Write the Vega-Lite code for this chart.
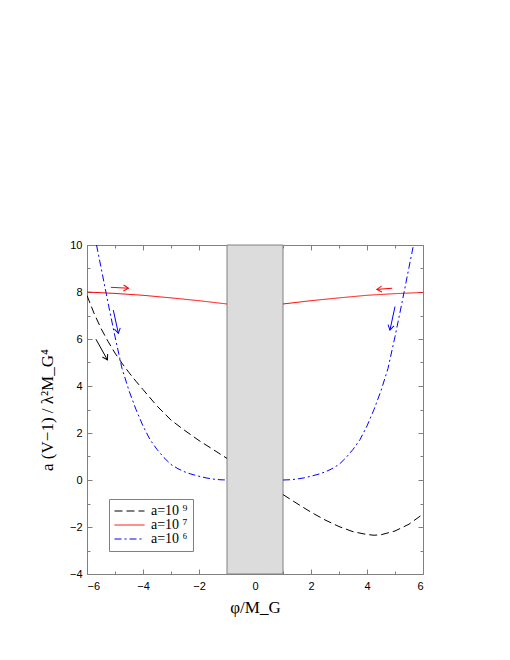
{
  "$schema": "https://vega.github.io/schema/vega-lite/v6.json",
  "width": 336,
  "height": 329,
  "autosize": "none",
  "padding": {"left": 87, "top": 245, "right": 87, "bottom": 86},
  "background": "white",
  "config": {
    "view": {"stroke": "#808080", "strokeWidth": 1},
    "axis": {
      "domain": false,
      "grid": false,
      "tickColor": "#808080",
      "tickWidth": 1,
      "labelFont": "Liberation Sans",
      "labelFontSize": 11,
      "labelColor": "black",
      "titleFont": "Liberation Serif",
      "titleFontSize": 17,
      "titleFontWeight": "normal",
      "titleColor": "black"
    },
    "legend": {
      "labelFont": "Liberation Serif",
      "labelFontSize": 14,
      "labelColor": "black"
    }
  },
  "datasets": {
    "curves": [
      {"series": "a=10 ⁹", "part": "left", "phi": -6, "v": 7.85},
      {"series": "a=10 ⁹", "part": "left", "phi": -5.75, "v": 7.1},
      {"series": "a=10 ⁹", "part": "left", "phi": -5.5, "v": 6.45},
      {"series": "a=10 ⁹", "part": "left", "phi": -5.25, "v": 5.9},
      {"series": "a=10 ⁹", "part": "left", "phi": -5, "v": 5.4},
      {"series": "a=10 ⁹", "part": "left", "phi": -4.75, "v": 4.97},
      {"series": "a=10 ⁹", "part": "left", "phi": -4.5, "v": 4.57},
      {"series": "a=10 ⁹", "part": "left", "phi": -4.25, "v": 4.2},
      {"series": "a=10 ⁹", "part": "left", "phi": -4, "v": 3.85},
      {"series": "a=10 ⁹", "part": "left", "phi": -3.5, "v": 3.15},
      {"series": "a=10 ⁹", "part": "left", "phi": -3, "v": 2.55},
      {"series": "a=10 ⁹", "part": "left", "phi": -2.5, "v": 2.1},
      {"series": "a=10 ⁹", "part": "left", "phi": -2, "v": 1.68},
      {"series": "a=10 ⁹", "part": "left", "phi": -1.5, "v": 1.3},
      {"series": "a=10 ⁹", "part": "left", "phi": -1, "v": 0.92},
      {"series": "a=10 ⁹", "part": "right", "phi": 1, "v": -0.62},
      {"series": "a=10 ⁹", "part": "right", "phi": 1.5, "v": -1.0},
      {"series": "a=10 ⁹", "part": "right", "phi": 2, "v": -1.37},
      {"series": "a=10 ⁹", "part": "right", "phi": 2.5, "v": -1.7},
      {"series": "a=10 ⁹", "part": "right", "phi": 3, "v": -1.98},
      {"series": "a=10 ⁹", "part": "right", "phi": 3.5, "v": -2.2},
      {"series": "a=10 ⁹", "part": "right", "phi": 4, "v": -2.32},
      {"series": "a=10 ⁹", "part": "right", "phi": 4.25, "v": -2.35},
      {"series": "a=10 ⁹", "part": "right", "phi": 4.5, "v": -2.33},
      {"series": "a=10 ⁹", "part": "right", "phi": 5, "v": -2.17},
      {"series": "a=10 ⁹", "part": "right", "phi": 5.5, "v": -1.88},
      {"series": "a=10 ⁹", "part": "right", "phi": 6, "v": -1.45},
      {"series": "a=10 ⁷", "part": "left", "phi": -6, "v": 8.0},
      {"series": "a=10 ⁷", "part": "left", "phi": -5, "v": 7.94},
      {"series": "a=10 ⁷", "part": "left", "phi": -4, "v": 7.86},
      {"series": "a=10 ⁷", "part": "left", "phi": -3, "v": 7.75},
      {"series": "a=10 ⁷", "part": "left", "phi": -2, "v": 7.63},
      {"series": "a=10 ⁷", "part": "left", "phi": -1.5, "v": 7.56},
      {"series": "a=10 ⁷", "part": "left", "phi": -1, "v": 7.49},
      {"series": "a=10 ⁷", "part": "right", "phi": 1, "v": 7.49},
      {"series": "a=10 ⁷", "part": "right", "phi": 1.5, "v": 7.56},
      {"series": "a=10 ⁷", "part": "right", "phi": 2, "v": 7.63},
      {"series": "a=10 ⁷", "part": "right", "phi": 3, "v": 7.75},
      {"series": "a=10 ⁷", "part": "right", "phi": 4, "v": 7.86},
      {"series": "a=10 ⁷", "part": "right", "phi": 5, "v": 7.93},
      {"series": "a=10 ⁷", "part": "right", "phi": 6, "v": 7.98},
      {"series": "a=10 ⁶", "part": "left", "phi": -5.66, "v": 10},
      {"series": "a=10 ⁶", "part": "left", "phi": -5.5, "v": 9.05},
      {"series": "a=10 ⁶", "part": "left", "phi": -5.25, "v": 7.55},
      {"series": "a=10 ⁶", "part": "left", "phi": -5, "v": 6.1},
      {"series": "a=10 ⁶", "part": "left", "phi": -4.75, "v": 4.75},
      {"series": "a=10 ⁶", "part": "left", "phi": -4.5, "v": 3.8},
      {"series": "a=10 ⁶", "part": "left", "phi": -4.25, "v": 3.0},
      {"series": "a=10 ⁶", "part": "left", "phi": -4, "v": 2.3},
      {"series": "a=10 ⁶", "part": "left", "phi": -3.75, "v": 1.72},
      {"series": "a=10 ⁶", "part": "left", "phi": -3.5, "v": 1.3},
      {"series": "a=10 ⁶", "part": "left", "phi": -3.25, "v": 0.95},
      {"series": "a=10 ⁶", "part": "left", "phi": -3, "v": 0.66},
      {"series": "a=10 ⁶", "part": "left", "phi": -2.75, "v": 0.48},
      {"series": "a=10 ⁶", "part": "left", "phi": -2.5, "v": 0.34},
      {"series": "a=10 ⁶", "part": "left", "phi": -2.25, "v": 0.24},
      {"series": "a=10 ⁶", "part": "left", "phi": -2, "v": 0.16},
      {"series": "a=10 ⁶", "part": "left", "phi": -1.75, "v": 0.09},
      {"series": "a=10 ⁶", "part": "left", "phi": -1.5, "v": 0.04},
      {"series": "a=10 ⁶", "part": "left", "phi": -1.25, "v": 0.01},
      {"series": "a=10 ⁶", "part": "left", "phi": -1, "v": 0},
      {"series": "a=10 ⁶", "part": "right", "phi": 1, "v": 0},
      {"series": "a=10 ⁶", "part": "right", "phi": 1.25, "v": 0.01},
      {"series": "a=10 ⁶", "part": "right", "phi": 1.5, "v": 0.04},
      {"series": "a=10 ⁶", "part": "right", "phi": 1.75, "v": 0.09},
      {"series": "a=10 ⁶", "part": "right", "phi": 2, "v": 0.16},
      {"series": "a=10 ⁶", "part": "right", "phi": 2.25, "v": 0.24},
      {"series": "a=10 ⁶", "part": "right", "phi": 2.5, "v": 0.34},
      {"series": "a=10 ⁶", "part": "right", "phi": 2.75, "v": 0.48},
      {"series": "a=10 ⁶", "part": "right", "phi": 3, "v": 0.66},
      {"series": "a=10 ⁶", "part": "right", "phi": 3.25, "v": 0.95},
      {"series": "a=10 ⁶", "part": "right", "phi": 3.5, "v": 1.3},
      {"series": "a=10 ⁶", "part": "right", "phi": 3.75, "v": 1.72},
      {"series": "a=10 ⁶", "part": "right", "phi": 4, "v": 2.3},
      {"series": "a=10 ⁶", "part": "right", "phi": 4.25, "v": 3.0},
      {"series": "a=10 ⁶", "part": "right", "phi": 4.5, "v": 3.8},
      {"series": "a=10 ⁶", "part": "right", "phi": 4.75, "v": 4.75},
      {"series": "a=10 ⁶", "part": "right", "phi": 5, "v": 6.1},
      {"series": "a=10 ⁶", "part": "right", "phi": 5.25, "v": 7.55},
      {"series": "a=10 ⁶", "part": "right", "phi": 5.5, "v": 9.05},
      {"series": "a=10 ⁶", "part": "right", "phi": 5.66, "v": 10}
    ],
    "arrows": [
      {"id": "red-left", "series": "a=10 ⁷", "phi": -5.15, "v": 8.2, "phi2": -4.52, "v2": 8.16},
      {"id": "red-right", "series": "a=10 ⁷", "phi": 4.9, "v": 8.16, "phi2": 4.35, "v2": 8.11},
      {"id": "blue-left", "series": "a=10 ⁶", "phi": -5.06, "v": 7.23, "phi2": -4.88, "v2": 6.24},
      {"id": "blue-right", "series": "a=10 ⁶", "phi": 5.0, "v": 7.38, "phi2": 4.82, "v2": 6.38},
      {"id": "black", "series": "a=10 ⁹", "phi": -5.68, "v": 5.99, "phi2": -5.27, "v2": 5.11}
    ],
    "shade": [
      {"from": -1, "to": 1, "low": -4, "high": 10}
    ]
  },
  "resolve": {"axis": {"x": "independent", "y": "independent"}},
  "layer": [
    {
      "data": {"name": "shade"},
      "mark": {"type": "rect", "fill": "#dcdcdc", "stroke": "#808080", "strokeWidth": 1},
      "encoding": {
        "x": {
          "field": "from", "type": "quantitative",
          "scale": {"domain": [-6, 6], "nice": false, "zero": false},
          "axis": {"orient": "bottom", "values": [-6, -4, -2, 0, 2, 4, 6], "tickSize": -5, "labelPadding": 11, "title": "φ/M_G", "titlePadding": 8}
        },
        "x2": {"field": "to"},
        "y": {
          "field": "low", "type": "quantitative",
          "scale": {"domain": [-4, 10], "nice": false, "zero": false},
          "axis": {"orient": "left", "values": [-4, -2, 0, 2, 4, 6, 8, 10], "tickSize": -5, "labelPadding": 10, "title": "a (V−1) / λ²M_G⁴", "titlePadding": 13}
        },
        "y2": {"field": "high"}
      }
    },
    {
      "data": {"name": "curves"},
      "mark": {"type": "line", "strokeWidth": 1, "clip": true},
      "encoding": {
        "x": {
          "field": "phi", "type": "quantitative",
          "axis": {"orient": "top", "values": [-6, -4, -2, 0, 2, 4, 6], "tickSize": -5, "labels": false, "title": null}
        },
        "y": {
          "field": "v", "type": "quantitative",
          "axis": {"orient": "right", "values": [-4, -2, 0, 2, 4, 6, 8, 10], "tickSize": -5, "labels": false, "title": null}
        },
        "detail": {"field": "part"},
        "color": {
          "field": "series", "type": "nominal",
          "scale": {"domain": ["a=10 ⁹", "a=10 ⁷", "a=10 ⁶"], "range": ["black", "#ff0000", "#0000ff"]},
          "legend": {
            "title": null, "orient": "none", "legendX": 22, "legendY": 254,
            "symbolType": "stroke", "symbolSize": 900, "symbolStrokeWidth": 1,
            "clipHeight": 14, "strokeColor": "#808080", "fillColor": "white",
            "padding": 5, "rowPadding": 0, "labelOffset": 6,
            "labelExpr": "datum.label + '\u00a0\u00a0\u00a0\u00a0\u00a0\u00a0\u00a0'"
          }
        },
        "strokeDash": {
          "field": "series", "type": "nominal",
          "scale": {"domain": ["a=10 ⁹", "a=10 ⁷", "a=10 ⁶"], "range": [[8, 4], [1, 0], [7, 3, 2, 3]]},
          "legend": {
            "title": null, "orient": "none", "legendX": 22, "legendY": 254,
            "symbolType": "stroke", "symbolSize": 900, "symbolStrokeWidth": 1,
            "clipHeight": 14, "strokeColor": "#808080", "fillColor": "white",
            "padding": 5, "rowPadding": 0, "labelOffset": 6,
            "labelExpr": "datum.label + '\u00a0\u00a0\u00a0\u00a0\u00a0\u00a0\u00a0'"
          }
        }
      }
    },
    {
      "data": {"name": "arrows"},
      "mark": {"type": "rule", "strokeWidth": 1},
      "encoding": {
        "x": {
          "field": "phi", "type": "quantitative",
          "axis": {"orient": "bottom", "values": [-5, -3, -1, 1, 3, 5], "tickSize": -3, "labels": false, "title": null}
        },
        "y": {
          "field": "v", "type": "quantitative",
          "axis": {"orient": "left", "values": [-3, -1, 1, 3, 5, 7, 9], "tickSize": -3, "labels": false, "title": null}
        },
        "x2": {"field": "phi2"},
        "y2": {"field": "v2"},
        "stroke": {
          "field": "series", "type": "nominal", "legend": null,
          "scale": {"domain": ["a=10 ⁹", "a=10 ⁷", "a=10 ⁶"], "range": ["black", "#ff0000", "#0000ff"]}
        }
      }
    },
    {
      "data": {"name": "arrows"},
      "mark": {"type": "point", "shape": "M-1,-0.6L0,0L-1,0.6", "filled": false, "strokeWidth": 1, "size": 100, "opacity": 1},
      "encoding": {
        "x": {
          "field": "phi2", "type": "quantitative",
          "axis": {"orient": "top", "values": [-5, -3, -1, 1, 3, 5], "tickSize": -3, "labels": false, "title": null}
        },
        "y": {
          "field": "v2", "type": "quantitative",
          "axis": {"orient": "right", "values": [-3, -1, 1, 3, 5, 7, 9], "tickSize": -3, "labels": false, "title": null}
        },
        "angle": {
          "condition": [
            {"test": "datum.id === 'red-left'", "value": 3},
            {"test": "datum.id === 'red-right'", "value": 176},
            {"test": "datum.id === 'blue-left'", "value": 78},
            {"test": "datum.id === 'blue-right'", "value": 102}
          ],
          "value": 61
        },
        "stroke": {
          "field": "series", "type": "nominal", "legend": null,
          "scale": {"domain": ["a=10 ⁹", "a=10 ⁷", "a=10 ⁶"], "range": ["black", "#ff0000", "#0000ff"]}
        }
      }
    }
  ]
}
